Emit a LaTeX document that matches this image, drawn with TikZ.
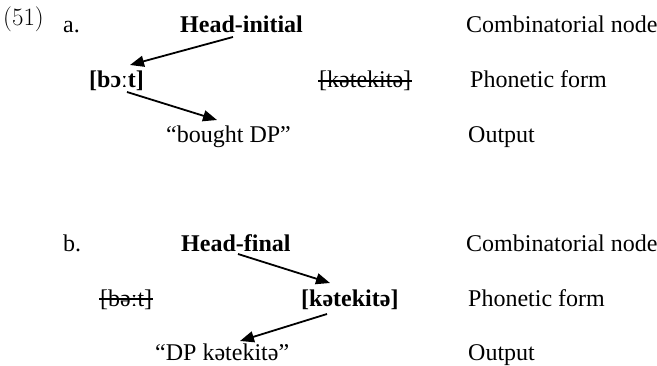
\documentclass[tikz,border=0pt]{standalone}
\usepackage{fontspec}
\setmainfont{Liberation Serif}
\newfontfamily\numfont{Latin Modern Roman}
\usetikzlibrary{calc,arrows.meta}
\tikzset{
  txt/.style={anchor=base west, inner sep=0pt, font=\fontsize{24}{28}\selectfont},
  bt/.style={txt, font=\fontsize{24}{28}\selectfont\bfseries},
  arr/.style={line width=1.8pt, -{Triangle[length=14pt,width=11pt]}},
  strike/.style={line width=2pt}
}
\begin{document}
\begin{tikzpicture}[x=1pt,y=-1pt]
\useasboundingbox (0,0) rectangle (657,366);
% labels
\node[txt, font=\fontsize{25}{29}\selectfont\numfont] (num) at (3,26) {(51)};
\node[txt] (la) at (63,33) {a.};
\node[txt] (lb) at (63,252) {b.};
% (a)
\node[bt] (hi) at (180,33) {Head-initial};
\node[bt] (bot) at (89,88) {[bɔːt]};
\node[txt] (ka) at (319,88) {[kətekitə]};
\node[txt] (bdp) at (166,143) {“bought DP”};
% (b)
\node[bt] (hf) at (181,252) {Head-final};
\node[txt] (bb) at (100,307) {[bəːt]};
\node[bt] (kb) at (301,307) {[kətekitə]};
\node[txt] (dpk) at (155,361) {“DP kətekitə”};
% right column
\node[txt] (ca) at (466,33) {Combinatorial node};
\node[txt] (pa) at (470,88) {Phonetic form};
\node[txt] (oa) at (468,143) {Output};
\node[txt] (cb) at (466,252) {Combinatorial node};
\node[txt] (pb) at (468,307) {Phonetic form};
\node[txt] (ob) at (468,361) {Output};
% strike-throughs
\draw[strike] ($(ka.base west)+(-1,-7)$) -- ($(ka.base east)+(1,-7)$);
\draw[strike] ($(bb.base west)+(-1,-8)$) -- ($(bb.base east)+(1,-8)$);
% arrows
\draw[arr] ($(hi.base west)+(53,4)$) -- ($(bot.base west)+(41,-23)$);
\draw[arr] ($(bot.base west)+(38,4)$) -- ($(bdp.base west)+(51,-23)$);
\draw[arr] ($(hf.base west)+(57,2)$) -- ($(kb.base west)+(29,-24)$);
\draw[arr] ($(kb.base west)+(26,7)$) -- ($(dpk.base west)+(85,-20)$);
\end{tikzpicture}
\end{document}
